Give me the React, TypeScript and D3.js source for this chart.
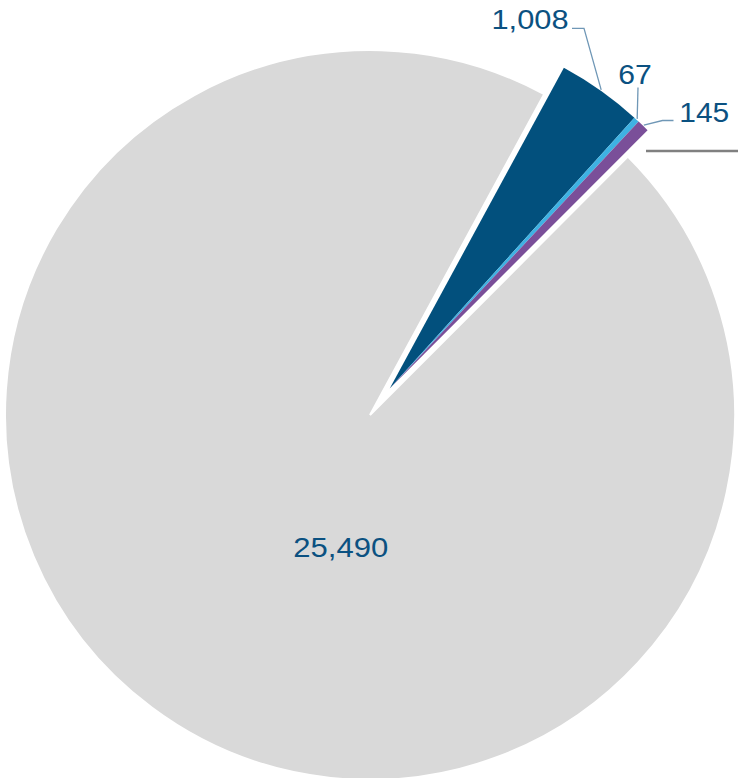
import React from "react";
import * as d3 from "d3";

const categories = ["A", "B", "C", "Other"];
const values = [1008, 67, 145, 25490];
const labels = ["1,008", "67", "145", "25,490"];
const colors = ["#02507d", "#3eb2e3", "#7a4f99", "#d9d9d9"];
const exploded = [true, true, true, false];

const W = 738;
const H = 778;
const CX = 370;
const CY = 415;
const R = 365;
const START_DEG = 28.5;
const EXPLODE = 33;
const TEXT_COLOR = "#0b5181";
const LEADER_COLOR = "#6f97b6";

// label layout: text anchor pos, text width, leader elbow + end
const labelLayout = [
  { x: 491.5, y: 29.3, w: 77, elbow: [584, 28.3], end: [572, 28.3] },
  { x: 618.3, y: 84, w: 33.5, elbow: [638, 87.5], end: [638, 87.5] },
  { x: 679.3, y: 121.6, w: 50, elbow: [662.5, 120.5], end: [673.5, 120.5] },
];

export default function App() {
  const pie = d3
    .pie<number>()
    .sort(null)
    .value((d) => d)
    .startAngle((START_DEG * Math.PI) / 180)
    .endAngle((START_DEG * Math.PI) / 180 + 2 * Math.PI);
  const arcs = pie(values);
  const arc = d3.arc<d3.PieArcDatum<number>>().innerRadius(0).outerRadius(R);

  // common explode direction for the exploded group
  const ex = arcs.filter((_, i) => exploded[i]);
  const gStart = ex[0].startAngle;
  const gEnd = ex[ex.length - 1].endAngle;
  const gMid = (gStart + gEnd) / 2;
  const dx = EXPLODE * Math.sin(gMid);
  const dy = -EXPLODE * Math.cos(gMid);

  return (
    <svg width={W} height={H} style={{ position: "absolute", left: 0, top: 0 }}>
      <rect width={W} height={H} fill="#ffffff" />
      <g transform={`translate(${CX},${CY})`}>
        {arcs.map((a, i) => (
          <path
            key={categories[i]}
            d={arc(a) || ""}
            fill={colors[i]}
            stroke={exploded[i] ? "none" : "#ffffff"}
            strokeWidth={2}
            strokeLinejoin="miter"
            transform={exploded[i] ? `translate(${dx},${dy})` : undefined}
          />
        ))}
      </g>
      {/* leader lines */}
      {arcs.slice(0, 3).map((a, i) => {
        const mid = (a.startAngle + a.endAngle) / 2;
        const px = CX + dx + (R + 1) * Math.sin(mid);
        const py = CY + dy - (R + 1) * Math.cos(mid);
        const L = labelLayout[i];
        return (
          <polyline
            key={"l" + i}
            points={`${px},${py} ${L.elbow[0]},${L.elbow[1]} ${L.end[0]},${L.end[1]}`}
            fill="none"
            stroke={LEADER_COLOR}
            strokeWidth={1.3}
          />
        );
      })}
      <line x1={646} x2={738} y1={151} y2={151} stroke="#808080" strokeWidth={2.5} />
      {labelLayout.map((L, i) => (
        <text
          key={"t" + i}
          x={L.x}
          y={L.y}
          fontFamily="Liberation Sans, Arial, sans-serif"
          fontSize={27}
          fill={TEXT_COLOR}
          textLength={L.w}
          lengthAdjust="spacingAndGlyphs"
        >
          {labels[i]}
        </text>
      ))}
      <text
        x={293.3}
        y={556.7}
        fontFamily="Liberation Sans, Arial, sans-serif"
        fontSize={27}
        fill={TEXT_COLOR}
        textLength={95}
        lengthAdjust="spacingAndGlyphs"
      >
        {labels[3]}
      </text>
    </svg>
  );
}
